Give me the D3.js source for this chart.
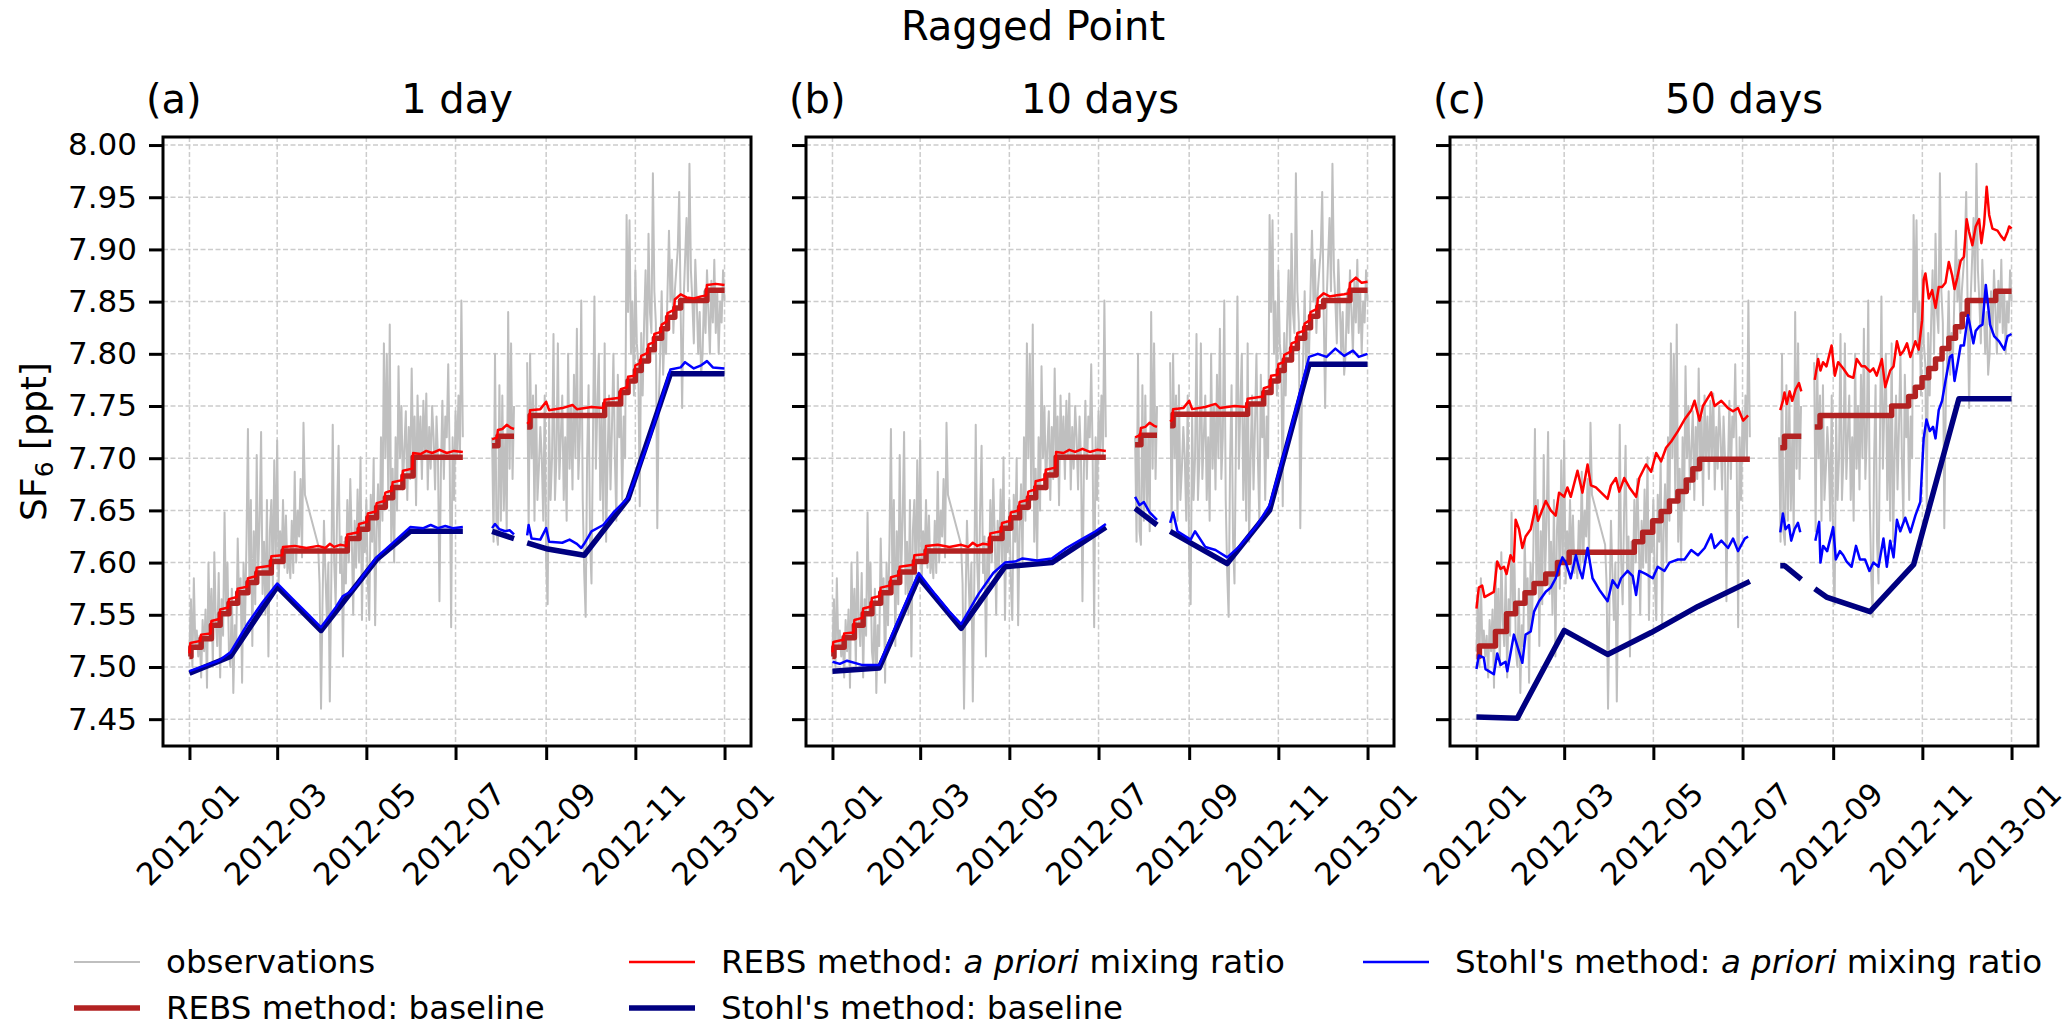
<!DOCTYPE html>
<html>
<head>
<meta charset="utf-8">
<script src="https://cdn.jsdelivr.net/npm/d3@7"></script>
<style>
  body { margin: 0; background: #fff; }
  svg text { font-family: "DejaVu Sans", sans-serif; fill: #000; }
</style>
</head>
<body>
<svg id="chart" width="2067" height="1020"></svg>
<script>
// ---- data (day = days since 2012-01-01, null = gap in the record) ----
const panelLabels = ['(a)', '(b)', '(c)'];
const panelTitles = ['1 day', '10 days', '50 days'];
const xTickLabels = ['2012-01', '2012-03', '2012-05', '2012-07', '2012-09', '2012-11', '2013-01'];
const yTicks = [7.45, 7.50, 7.55, 7.60, 7.65, 7.70, 7.75, 7.80, 7.85, 7.90, 7.95, 8.00];

// observations, daily, four blocks of the record
const obsDay = [].concat(d3.range(0, 80), d3.range(88, 189), d3.range(207, 224), d3.range(231, 367));
const obsJanMar = [7.515, 7.565, 7.500, 7.585, 7.520, 7.535, 7.510, 7.530, 7.490, 7.545,
  7.515, 7.555, 7.480, 7.600, 7.530, 7.575, 7.500, 7.610, 7.545, 7.520,
  7.590, 7.490, 7.565, 7.530, 7.648, 7.550, 7.600, 7.515, 7.500, 7.575,
  7.475, 7.540, 7.520, 7.623, 7.560, 7.585, 7.485, 7.600, 7.540, 7.620,
  7.728, 7.580, 7.660, 7.520, 7.630, 7.560, 7.703, 7.590, 7.640, 7.725,
  7.570, 7.620, 7.550, 7.660, 7.510, 7.630, 7.660, 7.575, 7.698, 7.600,
  7.717, 7.580, 7.630, 7.600, 7.660, 7.595, 7.645, 7.590, 7.610, 7.585,
  7.640, 7.590, 7.687, 7.600, 7.650, 7.625, 7.680, 7.605, 7.734, 7.665];
const obsMarJul = [7.617, 7.580, 7.460, 7.560, 7.640, 7.590, 7.545, 7.600, 7.467, 7.580,
  7.732, 7.600, 7.560, 7.650, 7.712, 7.590, 7.625, 7.510, 7.620, 7.580,
  7.660, 7.600, 7.680, 7.625, 7.550, 7.640, 7.595, 7.670, 7.600, 7.701,
  7.545, 7.640, 7.610, 7.660, 7.580, 7.545, 7.665, 7.620, 7.700, 7.540,
  7.630, 7.675, 7.600, 7.720, 7.640, 7.810, 7.700, 7.800, 7.660, 7.828,
  7.620, 7.690, 7.600, 7.720, 7.650, 7.788, 7.700, 7.750, 7.670, 7.710,
  7.745, 7.660, 7.730, 7.680, 7.786, 7.700, 7.740, 7.655, 7.760, 7.700,
  7.740, 7.680, 7.755, 7.700, 7.762, 7.670, 7.730, 7.690, 7.750, 7.720,
  7.670, 7.740, 7.700, 7.563, 7.690, 7.755, 7.680, 7.740, 7.720, 7.790,
  7.700, 7.538, 7.720, 7.660, 7.745, 7.700, 7.760, 7.700, 7.851, 7.720, null];
const obsJulAug = [7.720, 7.620, 7.800, 7.630, 7.617, 7.770, 7.640, 7.760, 7.650, 7.720,
  7.630, 7.840, 7.690, 7.810, 7.680, 7.750, null];
const obsAugDec = [7.792, 7.630, 7.800, 7.700, 7.760, 7.640, 7.770, 7.660, 7.690, 7.730,
  7.700, 7.640, 7.760, 7.600, 7.560, 7.740, 7.660, 7.700, 7.819, 7.660,
  7.700, 7.810, 7.680, 7.720, 7.760, 7.660, 7.720, 7.640, 7.800, 7.690,
  7.750, 7.670, 7.780, 7.700, 7.824, 7.680, 7.720, 7.851, 7.660, 7.590,
  7.548, 7.700, 7.770, 7.620, 7.580, 7.720, 7.855, 7.690, 7.750, 7.800,
  7.660, 7.740, 7.640, 7.810, 7.620, 7.700, 7.760, 7.670, 7.730, 7.800,
  7.700, 7.640, 7.780, 7.720, 7.750, 7.660, 7.740, 7.700, 7.933, 7.840,
  7.928, 7.800, 7.850, 7.760, 7.880, 7.810, 7.790, 7.654, 7.820, 7.760,
  7.830, 7.880, 7.800, 7.915, 7.840, 7.820, 7.973, 7.860, 7.830, 7.633,
  7.750, 7.800, 7.860, 7.780, 7.820, 7.800, 7.860, 7.918, 7.850, 7.890,
  7.820, 7.860, 7.880, 7.900, 7.955, 7.840, 7.748, 7.850, 7.890, 7.930,
  7.860, 7.982, 7.880, 7.850, 7.810, 7.890, 7.850, 7.800, 7.840, 7.780,
  7.800, 7.860, 7.820, 7.880, 7.840, 7.800, 7.870, 7.830, 7.890, 7.820,
  7.860, 7.800, 7.850, 7.830, 7.880, 7.850];
const obsValue = [].concat(obsJanMar, obsMarJul, obsJulAug, obsAugDec);

// (a) 1 day
const rebsBaseA = [[0,7.510],[1,7.519],[8,7.527],[15,7.540],[21,7.551],[27,7.561],[33,7.571],[40,7.581],[46,7.590],[56,7.601],[64,7.611],[108,7.623],[116,7.632],[122,7.643],[128,7.653],[134,7.662],[139,7.672],[146,7.683],[153,7.701],[187,7.701],[188,null],
  [207,7.712],[211,7.721],[222,7.721],[223,null],
  [231,7.730],[233,7.741],[284,7.752],[295,7.763],[300,7.774],[305,7.784],[309,7.793],[314,7.804],[318,7.815],[323,7.824],[327,7.835],[332,7.844],[336,7.851],[354,7.861],[366,7.861]];
const rebsPrioriA = [[0,7.513],[0.6,7.523],[7.4,7.525],[8,7.531],[14.4,7.532],[15,7.544],[20.4,7.546],[21,7.555],[26.4,7.557],[27,7.565],[32.4,7.567],[33,7.575],[39.4,7.577],[40,7.585],[45.4,7.587],[46,7.595],[55.4,7.597],[56,7.606],[63.4,7.607],[64,7.615],[72,7.616],[80,7.614],[88,7.616],[93,7.614],[96,7.618],[99,7.615],[103,7.617],[107.4,7.616],[108,7.627],[115.4,7.629],[116,7.637],[121.4,7.639],[122,7.647],[127.4,7.649],[128,7.657],[133.4,7.659],[134,7.667],[138.4,7.669],[139,7.677],[145.4,7.679],[146,7.688],[152.4,7.690],[153,7.705],[158,7.704],[162,7.707],[166,7.705],[171,7.708],[176,7.705],[181,7.707],[187,7.706],[188,null],
  [207,7.718],[210.4,7.720],[211,7.727],[214,7.728],[217,7.732],[220,7.729],[222,7.728],[223,null],
  [231,7.733],[232.4,7.735],[233,7.746],[240,7.747],[244,7.754],[246,7.746],[255,7.748],[262,7.751],[265,7.747],[275,7.749],[283.4,7.748],[284,7.756],[294.4,7.758],[295,7.766],[299.4,7.768],[300,7.778],[304.4,7.779],[305,7.789],[308.4,7.791],[309,7.798],[313.4,7.801],[314,7.809],[317.4,7.811],[318,7.819],[322.4,7.821],[323,7.828],[326.4,7.831],[327,7.839],[331.4,7.842],[332,7.852],[336,7.857],[340,7.854],[345,7.853],[350,7.855],[353.4,7.856],[354,7.866],[360,7.867],[366,7.866]];
const stohlBaseA = [[0,7.494],[28,7.510],[60,7.577],[90,7.535],[128,7.603],[151,7.630],[187,7.630],[188,null],
  [207,7.630],[222,7.623],[223,null],
  [231,7.619],[245,7.613],[270,7.607],[300,7.661],[329,7.781],[366,7.781]];
const stohlPrioriA = [[0,7.496],[10,7.501],[20,7.506],[28,7.514],[40,7.542],[50,7.562],[60,7.580],[70,7.566],[80,7.552],[90,7.538],[100,7.557],[105,7.568],[110,7.572],[115,7.580],[120,7.590],[128,7.605],[140,7.620],[151,7.634],[160,7.633],[165,7.636],[170,7.633],[175,7.635],[180,7.633],[187,7.634],[188,null],
  [207,7.633],[209,7.637],[212,7.632],[216,7.630],[219,7.631],[222,7.627],[223,null],
  [231,7.626],[232,7.636],[234,7.623],[240,7.622],[244,7.633],[246,7.620],[255,7.619],[260,7.622],[265,7.618],[268,7.614],[270,7.618],[275,7.630],[283,7.636],[290,7.648],[300,7.662],[315,7.720],[329,7.785],[336,7.787],[339,7.792],[345,7.786],[350,7.789],[354,7.793],[358,7.787],[366,7.786]];

// (b) 10 days
const rebsBaseB = [[0,7.510],[1,7.519],[8,7.528],[15,7.540],[21,7.551],[27,7.561],[33,7.571],[40,7.581],[46,7.591],[56,7.601],[64,7.611],[108,7.623],[116,7.633],[122,7.643],[128,7.653],[134,7.662],[139,7.672],[146,7.684],[153,7.701],[187,7.701],[188,null],
  [207,7.713],[211,7.722],[222,7.722],[223,null],
  [231,7.731],[233,7.742],[284,7.752],[295,7.763],[300,7.774],[305,7.784],[309,7.794],[314,7.805],[318,7.815],[323,7.825],[327,7.836],[332,7.845],[336,7.851],[354,7.861],[366,7.861]];
const rebsPrioriB = [[0,7.514],[0.6,7.524],[7.4,7.526],[8,7.532],[14.4,7.533],[15,7.545],[20.4,7.547],[21,7.556],[26.4,7.558],[27,7.566],[32.4,7.568],[33,7.576],[39.4,7.578],[40,7.586],[45.4,7.588],[46,7.596],[55.4,7.598],[56,7.607],[63.4,7.608],[64,7.616],[72,7.617],[80,7.615],[88,7.617],[93,7.615],[96,7.619],[99,7.616],[103,7.618],[107.4,7.617],[108,7.628],[115.4,7.630],[116,7.638],[121.4,7.640],[122,7.648],[127.4,7.650],[128,7.658],[133.4,7.660],[134,7.668],[138.4,7.670],[139,7.678],[145.4,7.680],[146,7.689],[152.4,7.691],[153,7.706],[158,7.705],[162,7.708],[166,7.706],[171,7.709],[176,7.706],[181,7.708],[187,7.707],[188,null],
  [207,7.720],[210.4,7.722],[211,7.729],[214,7.730],[217,7.734],[220,7.731],[222,7.730],[223,null],
  [231,7.735],[232.4,7.737],[233,7.747],[240,7.748],[244,7.755],[246,7.747],[255,7.749],[262,7.752],[265,7.748],[275,7.750],[283.4,7.749],[284,7.757],[294.4,7.759],[295,7.767],[299.4,7.769],[300,7.779],[304.4,7.780],[305,7.790],[308.4,7.792],[309,7.799],[313.4,7.802],[314,7.810],[317.4,7.812],[318,7.820],[322.4,7.822],[323,7.829],[326.4,7.832],[327,7.840],[331.4,7.843],[332,7.853],[336,7.858],[340,7.855],[345,7.856],[350,7.857],[353.4,7.858],[354,7.868],[358,7.873],[362,7.868],[366,7.869]];
const stohlBaseB = [[0,7.496],[32,7.499],[59,7.586],[88,7.537],[118,7.596],[150,7.600],[187,7.634],[188,null],
  [207,7.652],[222,7.636],[223,null],
  [231,7.630],[270,7.599],[299,7.650],[326,7.790],[366,7.790]];
const stohlPrioriB = [[0,7.505],[5,7.503],[10,7.506],[20,7.502],[32,7.502],[45,7.545],[59,7.590],[70,7.570],[80,7.553],[88,7.541],[100,7.570],[110,7.590],[118,7.600],[125,7.601],[130,7.604],[140,7.602],[150,7.604],[160,7.614],[170,7.622],[180,7.630],[187,7.637],[188,null],
  [207,7.663],[210,7.655],[213,7.658],[217,7.648],[222,7.641],[223,null],
  [231,7.638],[233,7.648],[236,7.630],[245,7.622],[248,7.630],[255,7.615],[262,7.612],[270,7.605],[278,7.615],[290,7.635],[299,7.655],[312,7.720],[326,7.797],[332,7.800],[338,7.797],[344,7.805],[350,7.798],[356,7.803],[360,7.797],[366,7.800]];

// (c) 50 days
const rebsBaseC = [[0,7.510],[2,7.520],[13,7.534],[20.6,7.551],[26.8,7.561],[33.2,7.571],[39.4,7.580],[47.4,7.589],[55.4,7.600],[63.4,7.610],[108,7.620],[113.7,7.629],[120.6,7.640],[126.3,7.649],[132,7.659],[137.8,7.668],[143.5,7.679],[148,7.690],[152.6,7.699],[187,7.699],[188,null],
  [207.8,7.710],[210.7,7.721],[222.2,7.721],[223,null],
  [231.4,7.730],[235,7.741],[284,7.750],[295.6,7.759],[300.2,7.768],[304.8,7.777],[309.4,7.786],[314,7.795],[318.5,7.805],[323.1,7.815],[327.7,7.826],[332.3,7.838],[335.7,7.851],[355.2,7.860],[366,7.860]];
const rebsPrioriC = [[0,7.556],[1.6,7.576],[3.9,7.578],[5.5,7.567],[11.9,7.572],[14.2,7.601],[16.5,7.594],[18.8,7.596],[20.6,7.589],[23.3,7.607],[25.6,7.601],[26.8,7.641],[29.1,7.632],[31.4,7.614],[33.6,7.625],[37.1,7.632],[40.5,7.654],[42.1,7.640],[47.4,7.659],[50.8,7.650],[54.2,7.645],[56.5,7.667],[60,7.663],[62.2,7.672],[64.5,7.663],[69.1,7.688],[72.5,7.667],[76,7.694],[78.3,7.674],[81.7,7.672],[89.7,7.661],[92,7.674],[95.4,7.681],[97.7,7.668],[101.1,7.681],[104.6,7.672],[109.2,7.663],[111.4,7.681],[116,7.694],[119.5,7.687],[122.9,7.705],[126.3,7.697],[129.7,7.710],[133.2,7.716],[137.8,7.726],[142.3,7.737],[146.9,7.746],[149.2,7.755],[152.6,7.736],[154.9,7.750],[160.6,7.763],[162.9,7.750],[167.5,7.755],[172.1,7.748],[175.5,7.745],[178.9,7.748],[182.4,7.736],[185.8,7.741],[188,null],
  [207.8,7.746],[209.6,7.755],[210.7,7.763],[212.3,7.752],[214.2,7.764],[216,7.755],[218.3,7.766],[220.6,7.772],[222.2,7.764],[223,null],
  [231.4,7.775],[233.7,7.795],[235.3,7.784],[237.1,7.792],[239.4,7.788],[242.9,7.808],[245.1,7.779],[247.4,7.792],[250.9,7.786],[254.3,7.779],[257.8,7.777],[260.1,7.795],[263.5,7.788],[265.8,7.788],[269.2,7.783],[271.5,7.786],[273.8,7.779],[277.3,7.795],[279.6,7.768],[283,7.784],[285.3,7.788],[287.6,7.812],[289.9,7.799],[292.2,7.803],[294.5,7.810],[296.8,7.797],[300.2,7.812],[302.5,7.804],[304.8,7.832],[305.9,7.871],[307.1,7.877],[309.4,7.853],[311.7,7.861],[314,7.844],[316.2,7.864],[318.5,7.864],[320.8,7.868],[323.1,7.888],[325.4,7.875],[327,7.862],[328.9,7.873],[331.2,7.889],[333.4,7.893],[335.3,7.929],[336.9,7.917],[339.2,7.904],[341.5,7.922],[343.8,7.929],[345.4,7.906],[347.2,7.924],[349,7.960],[350.7,7.933],[352.9,7.920],[356.4,7.918],[358.7,7.913],[361,7.909],[363.3,7.917],[364.4,7.922],[366,7.920]];
const stohlBaseC = [[0,7.452],[28,7.451],[31,7.459],[60,7.535],[89.7,7.512],[119.5,7.533],[151.5,7.558],[187,7.582],[188,null],
  [207.8,7.597],[210.7,7.597],[222.2,7.584],[223,null],
  [231.4,7.575],[239.4,7.567],[269.2,7.553],[299,7.598],[330,7.757],[366,7.757]];
const stohlPrioriC = [[0,7.498],[1.6,7.511],[5,7.509],[6.2,7.498],[11.9,7.493],[14.2,7.513],[16.5,7.502],[19.9,7.505],[21.1,7.496],[25.6,7.531],[31.4,7.504],[33.6,7.531],[37.1,7.534],[39.4,7.553],[42.8,7.563],[47.4,7.572],[50.8,7.576],[54.2,7.585],[56.5,7.596],[58.8,7.605],[61.1,7.600],[64.5,7.585],[68,7.607],[70.3,7.594],[72.5,7.585],[76,7.614],[79.4,7.585],[84,7.574],[89.7,7.563],[93.1,7.583],[96.6,7.576],[98.9,7.585],[103.4,7.592],[106.9,7.587],[109.2,7.569],[111.4,7.592],[116,7.589],[120.6,7.585],[124,7.596],[128.6,7.592],[132,7.600],[137.8,7.603],[142.3,7.603],[146.9,7.612],[151.5,7.607],[156.1,7.614],[160.6,7.627],[162.9,7.614],[167.5,7.621],[172.1,7.614],[175.5,7.623],[178.9,7.611],[183.5,7.623],[185.8,7.625],[188,null],
  [207.8,7.629],[209.6,7.647],[211.4,7.632],[213.7,7.636],[215.3,7.621],[217.6,7.632],[219.9,7.638],[221.5,7.629],[223,null],
  [231.8,7.621],[234.4,7.639],[235.3,7.600],[237.1,7.616],[239.9,7.611],[244,7.634],[245.8,7.603],[248.6,7.611],[250.9,7.607],[253.2,7.601],[256.6,7.596],[259.6,7.616],[262.3,7.603],[265.8,7.603],[268.8,7.592],[271.5,7.600],[275,7.596],[278.4,7.623],[280.7,7.596],[283,7.621],[285.3,7.605],[287.6,7.641],[289.9,7.630],[293.3,7.643],[296.8,7.629],[300.2,7.645],[303.6,7.658],[305.9,7.719],[307.8,7.737],[310.1,7.726],[312.3,7.730],[314,7.719],[316.2,7.746],[318.5,7.755],[320.8,7.774],[323.8,7.797],[325.4,7.799],[327,7.774],[329.3,7.792],[331.2,7.808],[333.4,7.808],[336.2,7.837],[338,7.824],[339.9,7.810],[341.5,7.822],[343.8,7.826],[346.1,7.828],[348.4,7.866],[350,7.846],[351.3,7.828],[354.1,7.817],[357.5,7.812],[361,7.804],[363.3,7.817],[366,7.819]];

const legendLabels = ['observations', 'REBS method: baseline', 'REBS method: a priori mixing ratio',
  "Stohl's method: baseline", "Stohl's method: a priori mixing ratio"];

// ---- layout ----
const svg = d3.select('#chart');
const panelLeft = [163, 806, 1450];
const panelW = 588, panelTop = 137, panelH = 609;

const t0 = Date.UTC(2012, 0, 1);
const toDate = d => new Date(t0 + d * 864e5);
const x = d3.scaleUtc().domain([toDate(-18.1), toDate(384.1)]).range([0, panelW]);
const y = d3.scaleLinear().domain([7.4243, 8.0077]).range([panelH, 0]);
const xTicks = xTickLabels.map(s => d3.utcParse('%Y-%m')(s));

const obsPoints = obsDay.map((d, i) => [d, obsValue[i]]);

const series = [
  { key: 'obs', color: '#bfbfbf', width: 2, step: false },
  { key: 'rebsBase', color: '#b22222', width: 5.5, step: true },
  { key: 'rebsPriori', color: '#ff0000', width: 2.5, step: false },
  { key: 'stohlBase', color: '#000080', width: 5.5, step: false },
  { key: 'stohlPriori', color: '#0000ff', width: 2.5, step: false }
];

const panelData = [
  { obs: obsPoints, rebsBase: rebsBaseA, rebsPriori: rebsPrioriA, stohlBase: stohlBaseA, stohlPriori: stohlPrioriA },
  { obs: obsPoints, rebsBase: rebsBaseB, rebsPriori: rebsPrioriB, stohlBase: stohlBaseB, stohlPriori: stohlPrioriB },
  { obs: obsPoints, rebsBase: rebsBaseC, rebsPriori: rebsPrioriC, stohlBase: stohlBaseC, stohlPriori: stohlPrioriC }
];

// suptitle
svg.append('text')
  .attr('x', 1033).attr('y', 40)
  .attr('text-anchor', 'middle')
  .style('font-size', '40px')
  .text('Ragged Point');

// y label
const yl = svg.append('text')
  .attr('transform', `translate(46,${panelTop + panelH / 2}) rotate(-90)`)
  .attr('text-anchor', 'middle')
  .style('font-size', '36px');
yl.append('tspan').text('SF');
yl.append('tspan').text('6').style('font-size', '25px').attr('dy', 7);
yl.append('tspan').text(' [ppt]').attr('dy', -7);

panelData.forEach((pd, p) => {
  const g = svg.append('g').attr('transform', `translate(${panelLeft[p]},${panelTop})`);

  // clip
  g.append('clipPath').attr('id', 'clip' + p)
    .append('rect').attr('width', panelW).attr('height', panelH);

  // grid
  const grid = g.append('g')
    .attr('stroke', '#cccccc').attr('stroke-width', 1.5).attr('stroke-dasharray', '5,2.5');
  grid.selectAll('line.gx').data(xTicks).join('line')
    .attr('x1', d => x(d)).attr('x2', d => x(d)).attr('y1', 0).attr('y2', panelH);
  grid.selectAll('line.gy').data(yTicks).join('line')
    .attr('x1', 0).attr('x2', panelW).attr('y1', d => y(d)).attr('y2', d => y(d));

  // lines
  const plot = g.append('g').attr('clip-path', `url(#clip${p})`);
  series.forEach(s => {
    const line = d3.line()
      .defined(d => d[1] !== null)
      .x(d => x(toDate(d[0])))
      .y(d => y(d[1]))
      .curve(s.step ? d3.curveStepAfter : d3.curveLinear);
    plot.append('path')
      .attr('d', line(pd[s.key]))
      .attr('fill', 'none')
      .attr('stroke', s.color)
      .attr('stroke-width', s.width)
      .attr('stroke-linejoin', 'round');
  });

  // axes
  const xAxis = g.append('g')
    .attr('transform', `translate(0,${panelH})`)
    .call(d3.axisBottom(x).tickValues(xTicks).tickFormat(d3.utcFormat('%Y-%m')).tickSize(14).tickSizeOuter(0));
  xAxis.select('.domain').remove();
  xAxis.selectAll('.tick line').attr('stroke', '#000').attr('stroke-width', 3);
  xAxis.selectAll('.tick text')
    .attr('y', 0).attr('dy', '0.35em')
    .attr('transform', 'translate(-2,88) rotate(-45)')
    .attr('text-anchor', 'middle')
    .style('font-size', '31px')
    .style('font-family', '"DejaVu Sans", sans-serif');

  const yAxis = g.append('g')
    .call(d3.axisLeft(y).tickValues(yTicks).tickSize(14).tickPadding(12).tickSizeOuter(0)
      .tickFormat(p === 0 ? d3.format('.2f') : () => ''));
  yAxis.select('.domain').remove();
  yAxis.selectAll('.tick line').attr('stroke', '#000').attr('stroke-width', 3);
  yAxis.selectAll('.tick text')
    .style('font-size', '31px')
    .style('font-family', '"DejaVu Sans", sans-serif');

  // frame
  g.append('rect')
    .attr('width', panelW).attr('height', panelH)
    .attr('fill', 'none').attr('stroke', '#000').attr('stroke-width', 3);

  // titles
  g.append('text')
    .attr('x', panelW / 2).attr('y', 113 - panelTop)
    .attr('text-anchor', 'middle')
    .style('font-size', '40px')
    .text(panelTitles[p]);
  g.append('text')
    .attr('x', -17).attr('y', 113 - panelTop)
    .style('font-size', '40px')
    .text(panelLabels[p]);
});

// legend (3 columns, filled column first)
const legendTextX = [166, 721, 1455];
const legendRowY = [962, 1008];
const legend = svg.append('g');
legendLabels.forEach((label, i) => {
  const col = Math.floor(i / 2), row = i % 2;
  const s = series[i];
  const ly = legendRowY[row];
  legend.append('line')
    .attr('x1', legendTextX[col] - 92).attr('x2', legendTextX[col] - 26)
    .attr('y1', ly).attr('y2', ly)
    .attr('stroke', s.color).attr('stroke-width', s.width);
  const t = legend.append('text')
    .attr('x', legendTextX[col]).attr('y', ly).attr('dy', '0.35em')
    .style('font-size', '32.5px');
  const parts = label.split('a priori');
  t.append('tspan').text(parts[0]);
  if (parts.length > 1) {
    t.append('tspan').text('a priori').style('font-style', 'italic');
    t.append('tspan').text(parts[1]);
  }
});
</script>
</body>
</html>
